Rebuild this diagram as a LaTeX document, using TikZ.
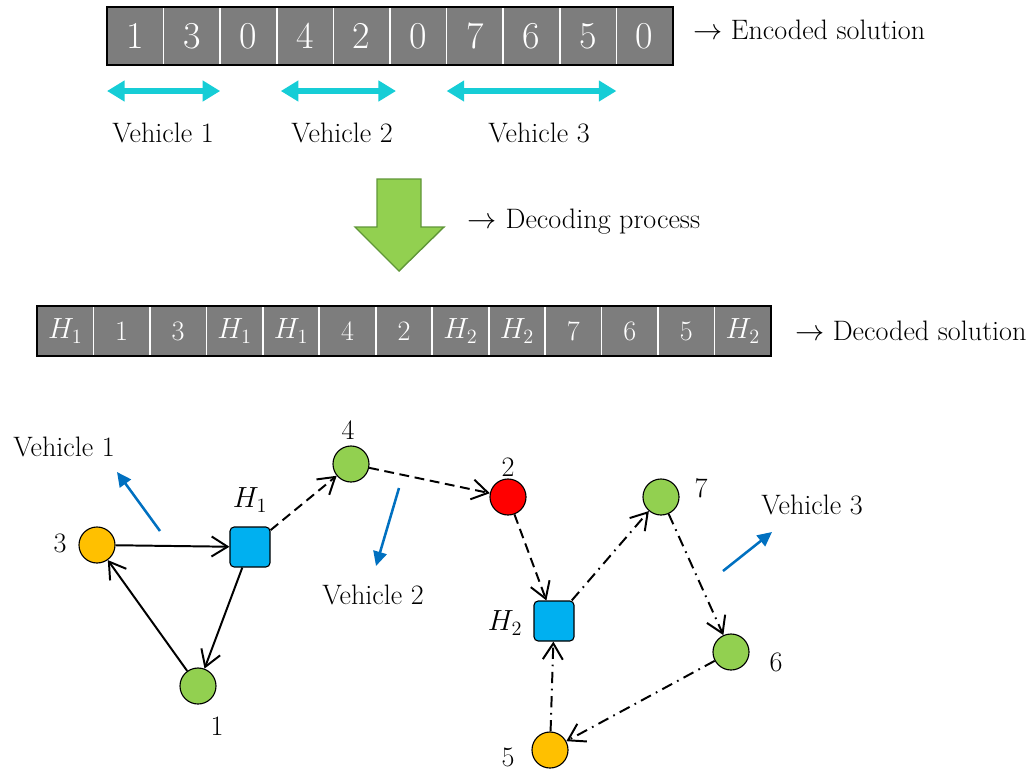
\documentclass[tikz,border=0pt]{standalone}
\usepackage{amsmath}
\usetikzlibrary{positioning, arrows.meta}
\definecolor{cellgray}{RGB}{125,125,125}
\definecolor{spancyan}{RGB}{22,205,214}
\definecolor{leafgreen}{RGB}{146,208,80}
\definecolor{darkgreen}{RGB}{96,150,56}
\definecolor{hubblue}{RGB}{0,176,240}
\definecolor{custorange}{RGB}{255,192,0}
\definecolor{vecblue}{RGB}{0,112,192}

\begin{document}
\begin{tikzpicture}[x=0.025cm, y=-0.025cm,
    cell/.style={fill=cellgray, text=white, minimum width=1.415cm, minimum height=1.45cm,
                 inner sep=0pt, outer sep=0pt, font=\fontsize{27}{29}\selectfont},
    dcell/.style={cell, minimum width=1.4115cm, minimum height=1.25cm, font=\fontsize{20}{22}\selectfont},
    sep/.style={white, line width=1.2pt},
    txt/.style={font=\fontsize{20}{23}\selectfont},
    span/.style={{Triangle[length=0.44cm,width=0.5cm]}-{Triangle[length=0.44cm,width=0.5cm]},
                 line width=0.16cm, spancyan},
    cust/.style={circle, draw, line width=0.8pt, minimum size=0.9cm, inner sep=0pt},
    hub/.style={draw, fill=hubblue, rounded corners=3pt, minimum size=1cm, line width=0.8pt},
    route/.style={-{Straight Barb[length=0.4cm,width=0.5cm]}, line width=1.4pt},
    dir/.style={-{Triangle[length=0.36cm,width=0.34cm]}, line width=1.8pt, vecblue}
  ]
  \useasboundingbox (0,0) rectangle (1030,770);

  % encoded solution
  \foreach \v [count=\i] in {1,3,0,4,2,0,7,6,5,0}
    \node[cell] (e\i) at ({107+56.6*(\i-0.5)},36) {\v};
  \foreach \i in {1,...,9}
    \draw[sep] (e\i.north east) -- (e\i.south east);
  \draw[line width=1.2pt] (e1.north west) rectangle (e10.south east);
  \node[txt, right=0.38cm of e10, yshift=0.15cm] (enc) {$\rightarrow$ Encoded solution};

  \draw[span] ([yshift=-0.65cm]e1.south west) -- ([yshift=-0.65cm]e2.south east);
  \draw[span] ([xshift=0.1cm, yshift=-0.65cm]e4.south west) -- ([xshift=0.15cm, yshift=-0.65cm]e5.south east);
  \draw[span] ([yshift=-0.65cm]e7.south west) -- ([yshift=-0.65cm]e9.south east);
  \node[txt] (s1) at (163,133) {Vehicle 1};
  \node[txt] (s2) at (342,133) {Vehicle 2};
  \node[txt] (s3) at (539,133) {Vehicle 3};

  % decoding
  \draw[fill=leafgreen, draw=darkgreen, line width=1pt]
    (377,179) -- (421,179) -- (421,227) -- (444,227) -- (399,271) -- (355,227) -- (377,227) -- cycle;
  \node[txt, anchor=west] (dec) at (463,222) {$\rightarrow$ Decoding process};

  % decoded solution
  \foreach \v [count=\i] in {$H_1$,1,3,$H_1$,$H_1$,4,2,$H_2$,$H_2$,7,6,5,$H_2$}
    \node[dcell] (d\i) at ({37+56.46*(\i-0.5)},331) {\v};
  \foreach \i in {1,...,12}
    \draw[sep] (d\i.north east) -- (d\i.south east);
  \draw[line width=1.2pt] (d1.north west) rectangle (d13.south east);
  \node[txt, right=0.48cm of d13] (dcd) {$\rightarrow$ Decoded solution};

  % routes
  \node[cust, fill=custorange] (n3) at (97,545) {};
  \node[hub] (h1) at (250,547) {};
  \node[cust, fill=leafgreen] (n1) at (198,686) {};
  \node[cust, fill=leafgreen] (n4) at (351,464) {};
  \node[cust, fill=red] (n2) at (508,497) {};
  \node[hub] (h2) at (554,621) {};
  \node[cust, fill=leafgreen] (n7) at (661,497) {};
  \node[cust, fill=leafgreen] (n6) at (731,652) {};
  \node[cust, fill=custorange] (n5) at (550,750) {};

  \node[txt] (l3) at (60,543) {3};
  \node[txt] (lh1) at (250,500) {$H_1$};
  \node[txt] (l1) at (217,726) {1};
  \node[txt] (l4) at (348,430) {4};
  \node[txt] (l2) at (508,467) {2};
  \node[txt] (lh2) at (505,623) {$H_2$};
  \node[txt] (l7) at (701,488) {7};
  \node[txt] (l6) at (776,662) {6};
  \node[txt, inner sep=1pt] (l5) at (508,757) {5};

  \draw[route] (n3) -- (h1);
  \draw[route] (h1) -- (n1);
  \draw[route] (n1) -- (n3);
  \draw[route, dash pattern=on 7pt off 4pt] (h1) -- (n4);
  \draw[route, dash pattern=on 7pt off 4pt] (n4) -- (n2);
  \draw[route, dash pattern=on 7pt off 4pt] (n2) -- (h2);
  \draw[route, dash pattern=on 8pt off 4pt on 1.2pt off 4pt] (h2) -- (n7);
  \draw[route, dash pattern=on 8pt off 4pt on 1.2pt off 4pt] (n7) -- (n6);
  \draw[route, dash pattern=on 8pt off 4pt on 1.2pt off 4pt] (n6) -- (n5);
  \draw[route, dash pattern=on 8pt off 4pt on 1.2pt off 4pt] (n5) -- (h2);

  % vehicle directions
  \coordinate (v1s) at (160,531);
  \coordinate (v1e) at (117,472);
  \coordinate (v2s) at (399,488);
  \coordinate (v2e) at (376,566);
  \coordinate (v3s) at (723,571);
  \coordinate (v3e) at (772,532);
  \draw[dir] (v1s) -- (v1e);
  \draw[dir] (v2s) -- (v2e);
  \draw[dir] (v3s) -- (v3e);
  \node[txt] (veh1) at (64,447) {Vehicle 1};
  \node[txt] (veh2) at (373,595) {Vehicle 2};
  \node[txt] (veh3) at (812,505) {Vehicle 3};
\end{tikzpicture}
\end{document}
